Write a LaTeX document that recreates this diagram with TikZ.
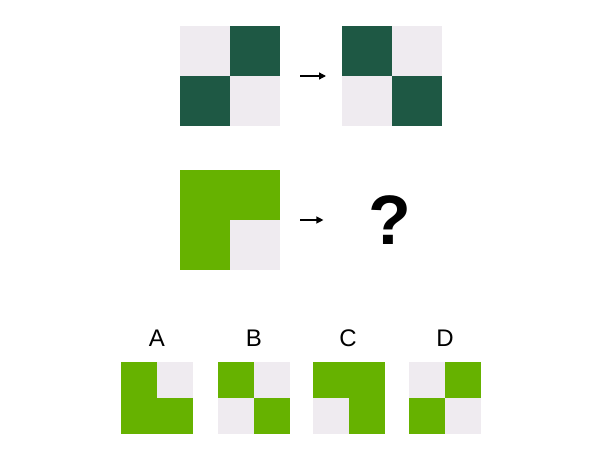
\documentclass[tikz,border=0pt]{standalone}
\usepackage{fontspec}
\setmainfont{Liberation Sans}
\usetikzlibrary{arrows.meta}
\definecolor{lightc}{RGB}{239,235,240}
\definecolor{darkg}{RGB}{30,88,68}
\definecolor{brightg}{RGB}{102,178,0}
\tikzset{
  sq/.style={draw=none,inner sep=0pt,outer sep=0pt,minimum size=#1},
  lbl/.style={font=\fontsize{24}{28}\selectfont},
  arr/.style={-{Triangle[length=7pt,width=7pt]},line width=1.3pt,black}
}
\begin{document}
\begin{tikzpicture}[x=1pt,y=-1pt]
\useasboundingbox (0,0) rectangle (607,449);
\fill[white] (0,0) rectangle (607,449);
% top left
\node[sq=100pt,fill=lightc] (t1) at (230,76) {};
\fill[darkg] (230,26) rectangle (280,76);
\fill[darkg] (180,76) rectangle (230,126);
% top right
\node[sq=100pt,fill=lightc] (t2) at (392,76) {};
\fill[darkg] (342,26) rectangle (392,76);
\fill[darkg] (392,76) rectangle (442,126);
\draw[arr,shorten <=20pt,shorten >=16pt] (t1.east) -- (t2.west);
% middle
\node[sq=100pt,fill=brightg] (m1) at (230,220) {};
\fill[lightc] (230,220) rectangle (280,270);
\node[font=\fontsize{70}{72}\selectfont\bfseries,inner sep=0pt] (q) at (390,220) {?};
\draw[arr,shorten <=20pt,shorten >=45pt] (m1.east) -- (q.west);
% options
\node[sq=72pt,fill=brightg] (oa) at (157,397.5) {};
\fill[lightc] (157,361.5) rectangle (193,397.5);
\node[sq=72pt,fill=lightc] (ob) at (253.5,397.5) {};
\fill[brightg] (217.5,361.5) rectangle (253.5,397.5);
\fill[brightg] (253.5,397.5) rectangle (289.5,433.5);
\node[sq=72pt,fill=brightg] (oc) at (348.5,397.5) {};
\fill[lightc] (312.5,397.5) rectangle (348.5,433.5);
\node[sq=72pt,fill=lightc] (od) at (445,397.5) {};
\fill[brightg] (445,361.5) rectangle (481,397.5);
\fill[brightg] (409,397.5) rectangle (445,433.5);
\node[lbl] (la) at (157,338) {A};
\node[lbl] (lb) at (254,338) {B};
\node[lbl] (lc) at (348,338) {C};
\node[lbl] (ld) at (445,338) {D};
\end{tikzpicture}
\end{document}
